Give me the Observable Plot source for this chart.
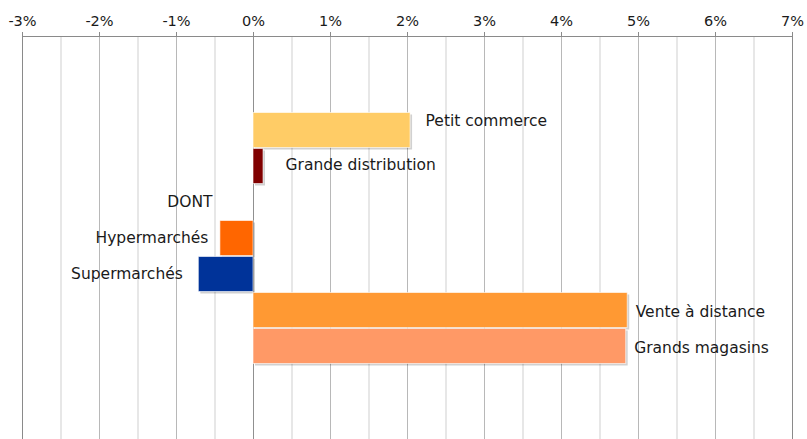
<!DOCTYPE html>
<html>
<head>
<meta charset="utf-8">
<script src="https://cdn.jsdelivr.net/npm/d3@7"></script>
<script src="https://cdn.jsdelivr.net/npm/@observablehq/plot@0.6"></script>
<style>
  html, body { margin: 0; padding: 0; background: #fff; }
  #chart svg { display: block; }
</style>
</head>
<body>
<div id="chart"></div>
<script>
const categories = ["Petit commerce", "Grande distribution", "DONT", "Hypermarchés", "Supermarchés", "Vente à distance", "Grands magasins"];
const values = [2.04, 0.13, 0, -0.43, -0.71, 4.86, 4.84];
const colors = ["#FFCC66", "#800000", "none", "#FF6600", "#003399", "#FF9933", "#FF9966"];
const tickValues = [-3, -2, -1, 0, 1, 2, 3, 4, 5, 6, 7];
const gridValues = [-3, -2.5, -2, -1.5, -1, -0.5, 0, 0.5, 1, 1.5, 2, 2.5, 3, 3.5, 4, 4.5, 5, 5.5, 6, 6.5, 7];

const data = categories.map((c, i) => ({category: c, value: values[i], color: colors[i]}));
const bars = data.filter(d => d.value !== 0);

const font = "'DejaVu Sans', 'Liberation Sans', Arial, sans-serif";

function label(name, dx, dy = 0) {
  const d = data.filter(r => r.category === name);
  return Plot.text(d, {
    x: "value", y: "category", text: "category",
    dx, dy, textAnchor: dx < 0 ? "end" : "start",
    fontSize: 15.5, fill: "#1a1a1a", fontFamily: font
  });
}

const chart = Plot.plot({
  width: 807,
  height: 439,
  marginLeft: 22,
  marginRight: 15,
  marginTop: 36,
  marginBottom: 0,
  style: {fontFamily: font, background: "#fff", overflow: "visible"},
  x: {domain: [-3, 7]},
  y: {domain: categories, paddingInner: 0, paddingOuter: 2, axis: null},
  marks: [
    Plot.ruleX(gridValues, {stroke: d => Number.isInteger(d) ? "#b8b8b8" : "#cfcfcf", strokeWidth: 1}),
    Plot.ruleX([0], {stroke: "#909090"}),
    Plot.frame({stroke: "#8a8a8a"}),
    Plot.axisX({
      anchor: "top", ticks: tickValues, tickFormat: d => d + "%",
      tickSize: 5, tickPadding: 6, fontSize: 14.5, stroke: "#8a8a8a", fill: "#1a1a1a", label: null
    }),
    // shadow
    Plot.barX(bars, {x: "value", y: "category", fill: "#000", fillOpacity: 0.18, dx: 2, dy: 2, insetTop: 0.5, insetBottom: 0.5}),
    Plot.barX(bars, {x: "value", y: "category", fill: "color", stroke: "#fff", strokeOpacity: 0.6, strokeWidth: 1, insetTop: 0.5, insetBottom: 0.5}),
    label("Petit commerce", 15, -9),
    label("Grande distribution", 22, -1),
    label("DONT", -41),
    label("Hypermarchés", -12),
    label("Supermarchés", -16),
    label("Vente à distance", 8, 2),
    label("Grands magasins", 8, 2)
  ]
});
document.getElementById("chart").appendChild(chart);
</script>
</body>
</html>
